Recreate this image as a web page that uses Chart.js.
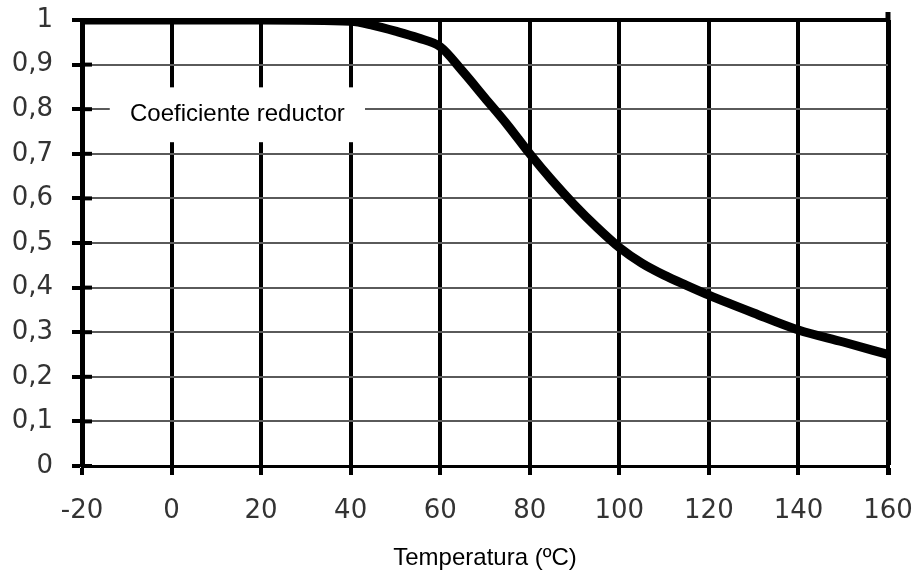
<!DOCTYPE html>
<html>
<head>
<meta charset="utf-8">
<script src="https://cdn.jsdelivr.net/npm/chart.js@4"></script>
<style>
  body { margin: 0; background: #fff; }
</style>
</head>
<body>
<canvas id="coefChart" width="913" height="577"></canvas>
<script>
const temps = [-20, 0, 20, 40, 45, 50, 55, 60, 65, 70, 75, 80, 85, 90, 95, 100, 105, 110, 115, 120, 130, 140, 150, 160];
const coef = [1, 1, 1, 0.997, 0.988, 0.975, 0.96, 0.94, 0.885, 0.825, 0.765, 0.70, 0.64, 0.585, 0.535, 0.49, 0.455, 0.428, 0.405, 0.383, 0.343, 0.305, 0.278, 0.25];
const seriesLabel = 'Coeficiente reductor';
const xTitle = 'Temperatura (ºC)';

// label box, tick stubs inside the axis, and the right frame line poking above
const boxLabel = {
  id: 'boxLabel',
  beforeDatasetsDraw(chart) {
    const ctx = chart.ctx;
    const x = chart.scales.x, y = chart.scales.y;
    const area = chart.chartArea;

    ctx.save();
    ctx.strokeStyle = '#000';
    ctx.lineWidth = 4;
    y.ticks.forEach(t => {
      const py = y.getPixelForValue(t.value);
      ctx.beginPath();
      ctx.moveTo(area.left, py);
      ctx.lineTo(area.left + 10, py);
      ctx.stroke();
    });

    ctx.lineWidth = 5;
    const rx = x.getPixelForValue(x.max);
    ctx.beginPath();
    ctx.moveTo(rx, area.top - 8);
    ctx.lineTo(rx, area.top);
    ctx.stroke();

    const x0 = x.getPixelForValue(-13.8), x1 = x.getPixelForValue(43.2);
    const y0 = y.getPixelForValue(0.849), y1 = y.getPixelForValue(0.726);
    ctx.fillStyle = '#fff';
    ctx.fillRect(x0, y0, x1 - x0, y1 - y0);
    ctx.fillStyle = '#000';
    ctx.font = '24px "Liberation Sans", Arial, sans-serif';
    ctx.textAlign = 'center';
    ctx.textBaseline = 'middle';
    ctx.fillText(seriesLabel, (x0 + x1) / 2, (y0 + y1) / 2);
    ctx.restore();
  }
};

const ctxCoef = document.getElementById('coefChart').getContext('2d');
new Chart(ctxCoef, {
  type: 'line',
  data: {
    datasets: [{
      label: seriesLabel,
      data: temps.map((t, i) => ({ x: t, y: coef[i] })),
      borderColor: '#000',
      borderWidth: 9,
      pointRadius: 0,
      cubicInterpolationMode: 'monotone',
      fill: false
    }]
  },
  options: {
    responsive: false,
    animation: false,
    layout: { padding: { left: 12, right: 25, top: 20, bottom: 0 } },
    plugins: {
      legend: { display: false },
      tooltip: { enabled: false }
    },
    scales: {
      x: {
        type: 'linear',
        min: -20,
        max: 160,
        afterFit(scale) {
          scale.height = 111;
          scale.paddingLeft = 0;
          scale.paddingRight = 0;
        },
        ticks: {
          stepSize: 20,
          padding: 21,
          color: '#333',
          font: { family: '"DejaVu Sans"', size: 26 }
        },
        grid: {
          color: '#000',
          lineWidth: c => (c.tick && c.tick.value === 160 ? 5 : 4),
          tickLength: 9,
          tickColor: '#000'
        },
        border: { display: true, color: '#000', width: 3 },
        title: {
          display: true,
          text: xTitle,
          color: '#000',
          font: { family: '"Liberation Sans", Arial', size: 24 },
          padding: { top: 0, bottom: 4 }
        }
      },
      y: {
        min: 0,
        max: 1,
        afterFit(scale) {
          scale.width = 70;
          scale.paddingTop = 0;
          scale.paddingBottom = 0;
        },
        ticks: {
          stepSize: 0.1,
          padding: 19,
          color: '#333',
          font: { family: '"DejaVu Sans"', size: 26 },
          callback: v => Number(v.toFixed(1)).toString().replace('.', ',')
        },
        grid: {
          color: c => (c.tick && c.tick.value >= 0.999 ? '#000' : '#5a5a5a'),
          lineWidth: c => (c.tick && c.tick.value >= 0.999 ? 4 : 2),
          tickLength: 10,
          tickColor: '#000',
          tickWidth: 4
        },
        border: { display: true, color: '#000', width: 5 }
      }
    }
  },
  plugins: [boxLabel]
});
</script>
</body>
</html>
